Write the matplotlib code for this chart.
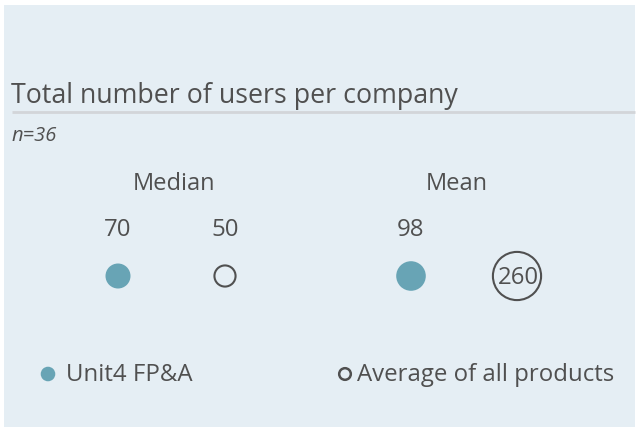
import matplotlib
matplotlib.use("Agg")
import matplotlib.pyplot as plt
from matplotlib.patches import Rectangle

plt.rcParams['font.family'] = ['Open Sans', 'DejaVu Sans']

# data
title = "Total number of users per company"
n_label = "n=36"
stats = ["Median", "Mean"]
unit4_vals = [70, 98]
avg_vals = [50, 260]
series_names = ["Unit4 FP&A", "Average of all products"]

teal = "#68a4b5"
txt = "#505050"
bg = "#e5eef4"

fig = plt.figure(figsize=(6.38, 4.33), dpi=100)
ax = fig.add_axes([0, 0, 1, 1])
ax.set_xlim(0, 638)
ax.set_ylim(433, 0)
ax.axis("off")

ax.add_patch(Rectangle((4, 5), 631, 422, facecolor=bg, edgecolor="none", zorder=0))

ax.text(11, 96, title, fontsize=19.3, color=txt, va="center", ha="left")
ax.plot([12, 635], [112, 112], color="#d2d5d9", lw=2, solid_capstyle="butt")
ax.text(12, 136, n_label, fontsize=14.5, color=txt, style="italic", va="center", ha="left")

# layout per group
group_x = [118, 411]
avg_x = [225, 517]
label_center = [174, 457]
size_k = 4.63

for i, name in enumerate(stats):
    ax.text(label_center[i], 184, name, fontsize=17, color=txt, ha="center", va="center")
    ax.scatter(group_x[i], 276, s=unit4_vals[i] * size_k, color=teal, edgecolors="none", zorder=3)
    ax.text(group_x[i], 230, str(unit4_vals[i]), fontsize=17.3, color=txt, ha="center", va="center")
    ax.scatter(avg_x[i], 276, s=avg_vals[i] * size_k, facecolors="none", edgecolors=txt,
               linewidths=1.5, zorder=3)
    if avg_vals[i] < 100:
        ax.text(avg_x[i], 230, str(avg_vals[i]), fontsize=17.3, color=txt, ha="center", va="center")
    else:
        ax.text(avg_x[i] + 1, 278, str(avg_vals[i]), fontsize=17.3, color=txt, ha="center", va="center")

# legend
ax.scatter(48, 374, s=110, color=teal, edgecolors="none")
ax.text(66, 375, series_names[0], fontsize=17.3, color=txt, ha="left", va="center")
ax.scatter(345, 374, s=70, facecolors="none", edgecolors=txt, linewidths=1.8)
ax.text(357, 375, series_names[1], fontsize=17.3, color=txt, ha="left", va="center")

fig.savefig("out.png", dpi=100, facecolor="white")
